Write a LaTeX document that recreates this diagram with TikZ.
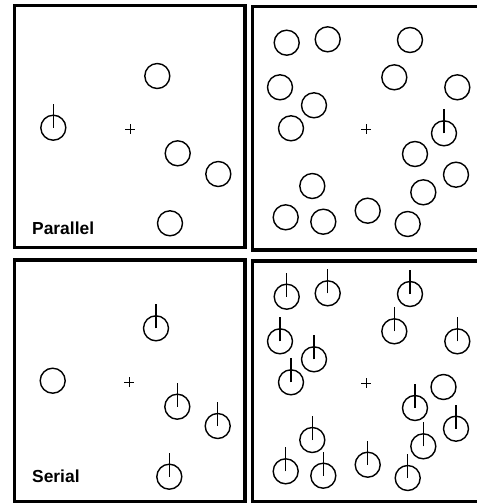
\documentclass[tikz,border=0pt]{standalone}
\usepackage{fontspec}
\setmainfont{Liberation Sans}
\begin{document}
\begin{tikzpicture}[x=1pt,y=-1pt,
  panel/.style={draw, line width=3.4pt},
  ring/.style={circle, draw, line width=1.4pt, minimum size=25pt, inner sep=0pt},
  tickline/.style={line width=1.4pt},
  crossline/.style={line width=1pt},
  lbl/.style={font=\bfseries\fontsize{17.4}{20}\selectfont, inner sep=0pt, anchor=base west}]
\useasboundingbox (0,0) rectangle (477,504);
\clip (0,0) rectangle (477,504);
% panels
\draw[panel] (14.5,5.5) rectangle (245,247.5);
\draw[panel] (252.5,6.5) rectangle (500,250);
\draw[panel] (14.5,260) rectangle (245,501.5);
\draw[panel] (252.5,261) rectangle (500,501.5);
% centre crosses
\foreach \n/\cx/\cy in {ctl/130/129, ctr/366/129.3, cbl/129.3/382.3, cbr/366/383.3}{
  \coordinate (\n) at (\cx,\cy);
  \draw[crossline] (\n) ++(-5,0) -- ++(10,0);
  \draw[crossline] (\n) ++(0,-5) -- ++(0,10);
}
% top-left panel
\foreach \px/\py [count=\i] in {157.3/76, 177.7/153.3, 218.3/174, 170/223.3}{
  \node[ring] (tl\i) at (\px,\py) {};
}
\node[ring] (tlt) at (53.3,127.7) {};
\draw[tickline] (tlt.center) -- ++(0,-24);
\node[lbl] (par) at (32,234) {Parallel};
% bottom-left panel
\node[ring] (blt) at (52.7,380.7) {};
\foreach \px/\py [count=\i] in {156/328.3, 177.3/406.7, 217.7/426, 169.3/476.7}{
  \node[ring] (bl\i) at (\px,\py) {};
  \draw[tickline] (bl\i.center) -- ++(0,-24);
}
\node[lbl] (ser) at (32,482) {Serial};
% top-right and bottom-right panels
\foreach \px/\py [count=\i] in {286.7/42.7, 327.7/39.3, 410/40, 280/87.3, 394.3/77.3,
  457.3/87.3, 314/105.3, 291/128.3, 415/154, 456/174.7, 312.3/186,
  423.3/192.3, 285.7/217.3, 323.3/221.7, 367.7/210.7, 407.7/224}{
  \node[ring] (tr\i) at (\px,\py) {};
  \node[ring] (br\i) at (\px,\py+254) {};
  \draw[tickline] (br\i.center) -- ++(0,-24);
}
\node[ring] (trt) at (444,133.3) {};
\draw[tickline] (trt.center) -- ++(0,-24);
\node[ring] (brt) at (443.5,387) {};
\end{tikzpicture}
\end{document}
